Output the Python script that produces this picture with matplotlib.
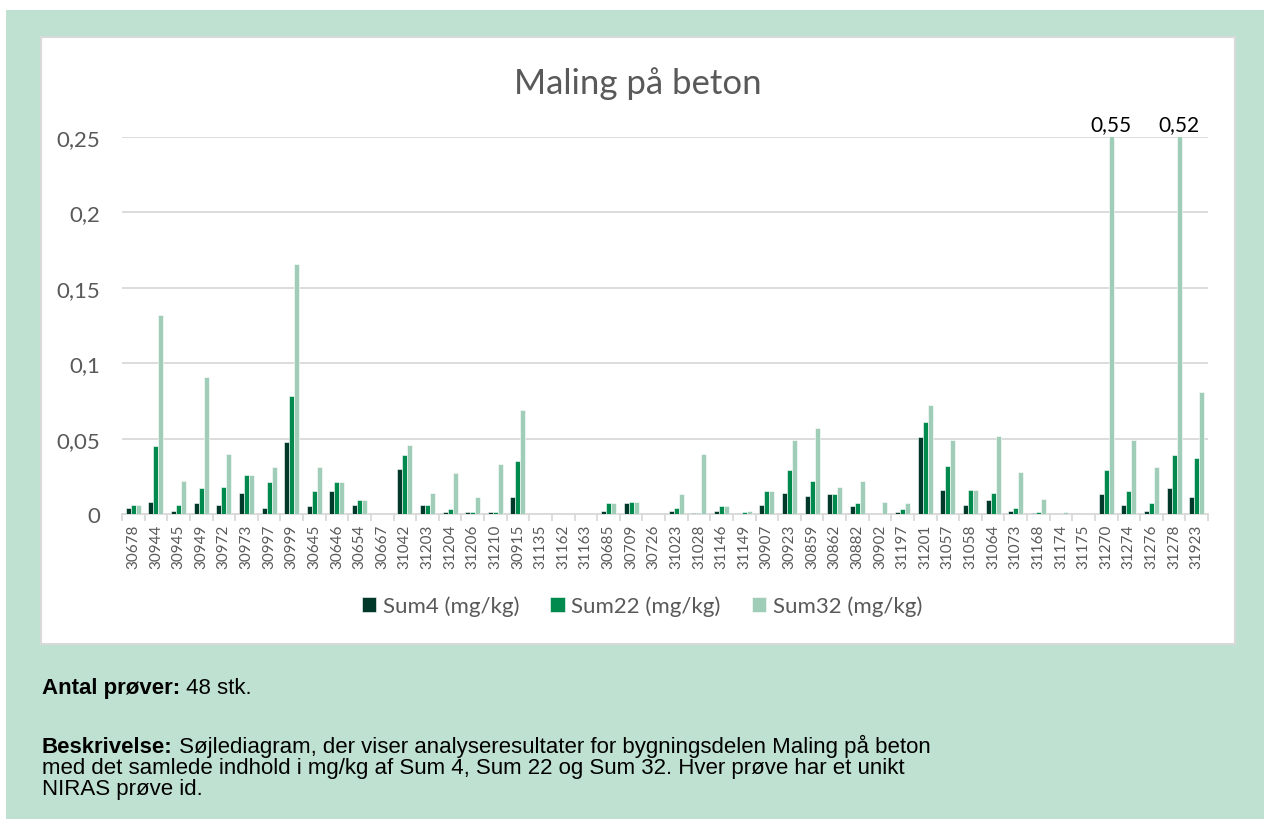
import numpy as np
import matplotlib
matplotlib.use("Agg")
import matplotlib.pyplot as plt
from matplotlib.patches import Rectangle

samples = ["30678", "30944", "30945", "30949", "30972", "30973", "30997", "30999",
           "30645", "30646", "30654", "30667", "31042", "31203", "31204", "31206",
           "31210", "30915", "31135", "31162", "31163", "30685", "30709", "30726",
           "31023", "31028", "31146", "31149", "30907", "30923", "30859", "30862",
           "30882", "30902", "31197", "31201", "31057", "31058", "31064", "31073",
           "31168", "31174", "31175", "31270", "31274", "31276", "31278", "31923"]

sum4 = [0.004, 0.008, 0.002, 0.007, 0.006, 0.014, 0.004, 0.048,
        0.005, 0.015, 0.006, 0.0, 0.030, 0.006, 0.001, 0.001,
        0.001, 0.011, 0.0, 0.0, 0.0, 0.002, 0.007, 0.0,
        0.002, 0.0005, 0.002, 0.0003, 0.006, 0.014, 0.012, 0.013,
        0.005, 0.0, 0.001, 0.051, 0.016, 0.006, 0.009, 0.002,
        0.0005, 0.0003, 0.0, 0.013, 0.006, 0.002, 0.017, 0.011]

sum22 = [0.006, 0.045, 0.006, 0.017, 0.018, 0.026, 0.021, 0.078,
         0.015, 0.021, 0.009, 0.0, 0.039, 0.006, 0.003, 0.001,
         0.001, 0.035, 0.0, 0.0, 0.0, 0.007, 0.008, 0.0,
         0.004, 0.0005, 0.005, 0.001, 0.015, 0.029, 0.022, 0.013,
         0.007, 0.0, 0.003, 0.061, 0.032, 0.016, 0.014, 0.004,
         0.001, 0.0003, 0.0, 0.029, 0.015, 0.007, 0.039, 0.037]

sum32 = [0.006, 0.132, 0.022, 0.091, 0.040, 0.026, 0.031, 0.166,
         0.031, 0.021, 0.009, 0.0, 0.046, 0.014, 0.027, 0.011,
         0.033, 0.069, 0.0, 0.0, 0.0, 0.007, 0.008, 0.0,
         0.013, 0.040, 0.005, 0.002, 0.015, 0.049, 0.057, 0.018,
         0.022, 0.008, 0.007, 0.072, 0.049, 0.016, 0.052, 0.028,
         0.010, 0.001, 0.0002, 0.55, 0.049, 0.031, 0.52, 0.081]

series_names = ["Sum4 (mg/kg)", "Sum22 (mg/kg)", "Sum32 (mg/kg)"]
colors = ["#00382A", "#008A4E", "#A0CDB8"]

W, H = 1264, 820
fig = plt.figure(figsize=(W / 100, H / 100), dpi=100)
fig.patch.set_facecolor("white")


def px_rect(x0, y0, x1, y1, **kw):
    # rectangle in pixel coords (origin top-left)
    return Rectangle((x0 / W, 1 - y1 / H), (x1 - x0) / W, (y1 - y0) / H,
                     transform=fig.transFigure, **kw)


fig.patches.append(px_rect(6, 11, W, H, facecolor="#BFE1D1", edgecolor="none", zorder=0))
fig.patches.append(px_rect(41, 38, 1235, 645, facecolor="white", edgecolor="#D9D9D9",
                           linewidth=1.5, zorder=1))

ax = fig.add_axes([122 / W, 1 - 515 / H, (1208 - 122) / W, (515 - 138) / H])
ax.set_facecolor("none")
ax.set_zorder(2)

x = np.arange(len(samples))
bw = 0.22
for i, (vals, name, c) in enumerate(zip([sum4, sum22, sum32], series_names, colors)):
    ax.bar(x + (i - 1) * bw, vals, width=bw, color=c, edgecolor="white",
           linewidth=0.4, label=name, zorder=3)

ax.set_ylim(0, 0.25)
ax.set_xlim(-0.5, len(samples) - 0.5)
ax.set_yticks([0, 0.05, 0.1, 0.15, 0.2, 0.25])
ax.set_yticklabels(["0", "0,05", "0,1", "0,15", "0,2", "0,25"])
ax.grid(axis="y", color="#D9D9D9", linewidth=1.3, zorder=0)
ax.set_axisbelow(True)

for s in ["top", "right", "left"]:
    ax.spines[s].set_visible(False)
ax.spines["bottom"].set_color("#D9D9D9")
ax.spines["bottom"].set_linewidth(1.3)

ax.set_xticks(x)
ax.set_xticklabels(samples, rotation=90, fontsize=11, color="#595959", family="Lato")
ax.set_xticks(np.arange(-0.5, len(samples), 1), minor=True)
ax.tick_params(axis="x", which="major", length=0, pad=7)
ax.tick_params(axis="x", which="minor", length=5, color="#D9D9D9", width=1.3)
ax.tick_params(axis="y", length=0, pad=16, labelsize=16, labelcolor="#595959")
for lab in ax.get_yticklabels():
    lab.set_family("Lato")

# values beyond the axis are written above the clipped bars
for xi, v in zip(x, sum32):
    if v > 0.25:
        ax.text(xi + bw, 0.252, f"{v:.2f}".replace(".", ","), ha="center", va="bottom",
                fontsize=15, family="Lato", color="black")

fig.text(638 / W, 1 - 84 / H, "Maling på beton", ha="center", va="center",
         fontsize=25, family="Lato", color="#595959")

leg = fig.legend(loc="center", bbox_to_anchor=(642 / W, 1 - 607 / H), ncol=3, frameon=False,
                 prop={"family": "Lato", "size": 16}, handlelength=0.65, handleheight=0.65,
                 handletextpad=0.3, columnspacing=1.4)
for t in leg.get_texts():
    t.set_color("#595959")

renderer = fig.canvas.get_renderer()
txt = dict(family="Liberation Sans", fontsize=16, color="black", va="baseline")


def label_line(y, bold, rest):
    t = fig.text(42 / W, 1 - y / H, bold, fontweight="bold", **txt)
    bb = t.get_window_extent(renderer)
    fig.text(bb.x1 / W, 1 - y / H, " " + rest, **txt)


label_line(694, "Antal prøver:", "48 stk.")
label_line(753, "Beskrivelse:",
           "Søjlediagram, der viser analyseresultater for bygningsdelen Maling på beton")
fig.text(42 / W, 1 - 774 / H,
         "med det samlede indhold i mg/kg af Sum 4, Sum 22 og Sum 32. Hver prøve har et unikt", **txt)
fig.text(42 / W, 1 - 795 / H, "NIRAS prøve id.", **txt)

fig.savefig("out.png", dpi=100, facecolor=fig.get_facecolor())
